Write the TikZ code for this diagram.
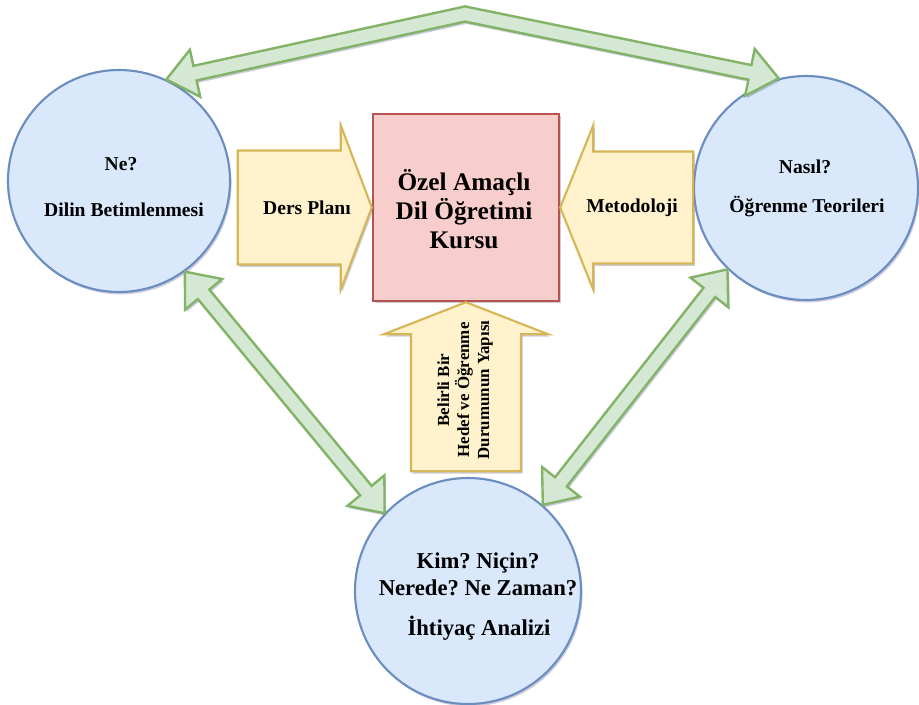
\documentclass[tikz,border=0pt]{standalone}
\usepackage{fontspec}
\setmainfont{Liberation Serif}
\usetikzlibrary{calc,shadows}

\definecolor{bluefill}{HTML}{DAE8FC}
\definecolor{bluedraw}{HTML}{6C8EBF}
\definecolor{redfill}{HTML}{F8CECC}
\definecolor{reddraw}{HTML}{B85450}
\definecolor{yelfill}{HTML}{FFF2CC}
\definecolor{yeldraw}{HTML}{D6B656}
\definecolor{grnfill}{HTML}{D5E8D4}
\definecolor{grndraw}{HTML}{82B366}

\tikzset{
  softshadow/.style={drop shadow={shadow xshift=1.2pt, shadow yshift=-1.8pt, opacity=0.2, fill=black!60!blue}},
  topic/.style={circle, draw=bluedraw, fill=bluefill, line width=1.6pt, inner sep=0pt, softshadow},
  coursebox/.style={rectangle, draw=reddraw, fill=redfill, line width=1.8pt, softshadow},
  inarrow/.style={draw=yeldraw, fill=yelfill, line width=1.6pt, line join=miter, softshadow},
  linkarrow/.style={draw=grndraw, fill=grnfill, line width=1.8pt, line join=miter, softshadow},
  lbl/.style={font=\bfseries\fontsize{14.7}{18}\selectfont, align=center, inner sep=0pt},
}

% fat double-headed arrow between two points
\newcommand{\twoway}[2]{%
  \coordinate (tw-a) at ($(#1)!22pt!(#2)$);
  \coordinate (tw-b) at ($(#2)!22pt!(#1)$);
  \draw[linkarrow] (#1) -- ($(tw-a)!18pt!90:(#2)$) -- ($(tw-a)!5.6pt!90:(#2)$)
    -- ($(tw-b)!5.6pt!-90:(#1)$) -- ($(tw-b)!18pt!-90:(#1)$) -- (#2)
    -- ($(tw-b)!18pt!90:(#1)$) -- ($(tw-b)!5.6pt!90:(#1)$)
    -- ($(tw-a)!5.6pt!-90:(#2)$) -- ($(tw-a)!18pt!-90:(#2)$) -- cycle;
}

\begin{document}
\frenchspacing
\begin{tikzpicture}[x=0.75pt, y=-0.75pt]
\useasboundingbox (0,0) rectangle (919,704);
\fill[white] (0,0) rectangle (919,704);

% the three topic circles and the course box
\node[topic, minimum size=166.5pt] (ne) at (119,181) {};
\node[topic, minimum size=168pt] (nasil) at (806,188) {};
\node[topic, minimum size=169.5pt] (kim) at (468,591) {};
\node[coursebox, minimum width=139.5pt, minimum height=140.25pt] (ozel) at (466,207.5) {};

% bent double arrow across the top
\coordinate (peak) at (465,14);
\coordinate (ta) at ($(ne.65)!22pt!(peak)$);
\coordinate (tb) at ($(nasil.104)!22pt!(peak)$);
\draw[linkarrow] (ne.65) -- ($(ta)!18pt!90:(peak)$) -- ($(ta)!5.6pt!90:(peak)$)
  -- ($(peak)+(0,-7.6)$) -- ($(tb)!5.6pt!-90:(peak)$) -- ($(tb)!18pt!-90:(peak)$)
  -- (nasil.104) -- ($(tb)!18pt!90:(peak)$) -- ($(tb)!5.6pt!90:(peak)$)
  -- ($(peak)+(0,7.6)$) -- ($(ta)!5.6pt!-90:(peak)$) -- ($(ta)!18pt!-90:(peak)$) -- cycle;

% diagonal double arrows to the needs-analysis circle
\twoway{ne.-54}{kim.137}
\twoway{nasil.-134}{kim.49}

% block arrows feeding the course box
\draw[inarrow] (ozel.west) -- ++(-31,-82) -- ++(0,25) -- ++(-103,0) -- ++(0,114)
  -- ++(103,0) -- ++(0,25) -- cycle;
\draw[inarrow] (ozel.east) -- ++(33,-82) -- ++(0,26) -- ++(100,0) -- ++(0,112)
  -- ++(-100,0) -- ++(0,26) -- cycle;
\draw[inarrow] (ozel.south) -- ++(-82,32) -- ++(27,0) -- ++(0,137) -- ++(110,0)
  -- ++(0,-137) -- ++(27,0) -- cycle;

% texts
\node[font=\bfseries\fontsize{19}{21.75}\selectfont, align=center] (ozt) at (464,209)
  {Özel Amaçlı\\Dil Öğretimi\\Kursu};
\node[lbl] (dp) at (307,208) {Ders Planı};
\node[lbl] (met) at (632,208) {Metodoloji};
\node[rotate=90, font=\bfseries\fontsize{12.7}{15}\selectfont, align=center] (bh) at (465,390)
  {Belirli Bir\\Hedef ve Öğrenme\\Durumunun Yapısı};
\node[lbl] (ne1) at (121,164) {Ne?};
\node[lbl] (ne2) at (124,210) {Dilin Betimlenmesi};
\node[lbl] (na1) at (805,167) {Nasıl?};
\node[lbl] (na2) at (807,207) {Öğrenme Teorileri};
\node[font=\bfseries\fontsize{17}{20.25}\selectfont, align=center] (kimt) at (478,574)
  {Kim? Niçin?\\Nerede? Ne Zaman?};
\node[font=\bfseries\fontsize{17}{20.25}\selectfont] (iht) at (479,628) {İhtiyaç Analizi};
\end{tikzpicture}
\end{document}
